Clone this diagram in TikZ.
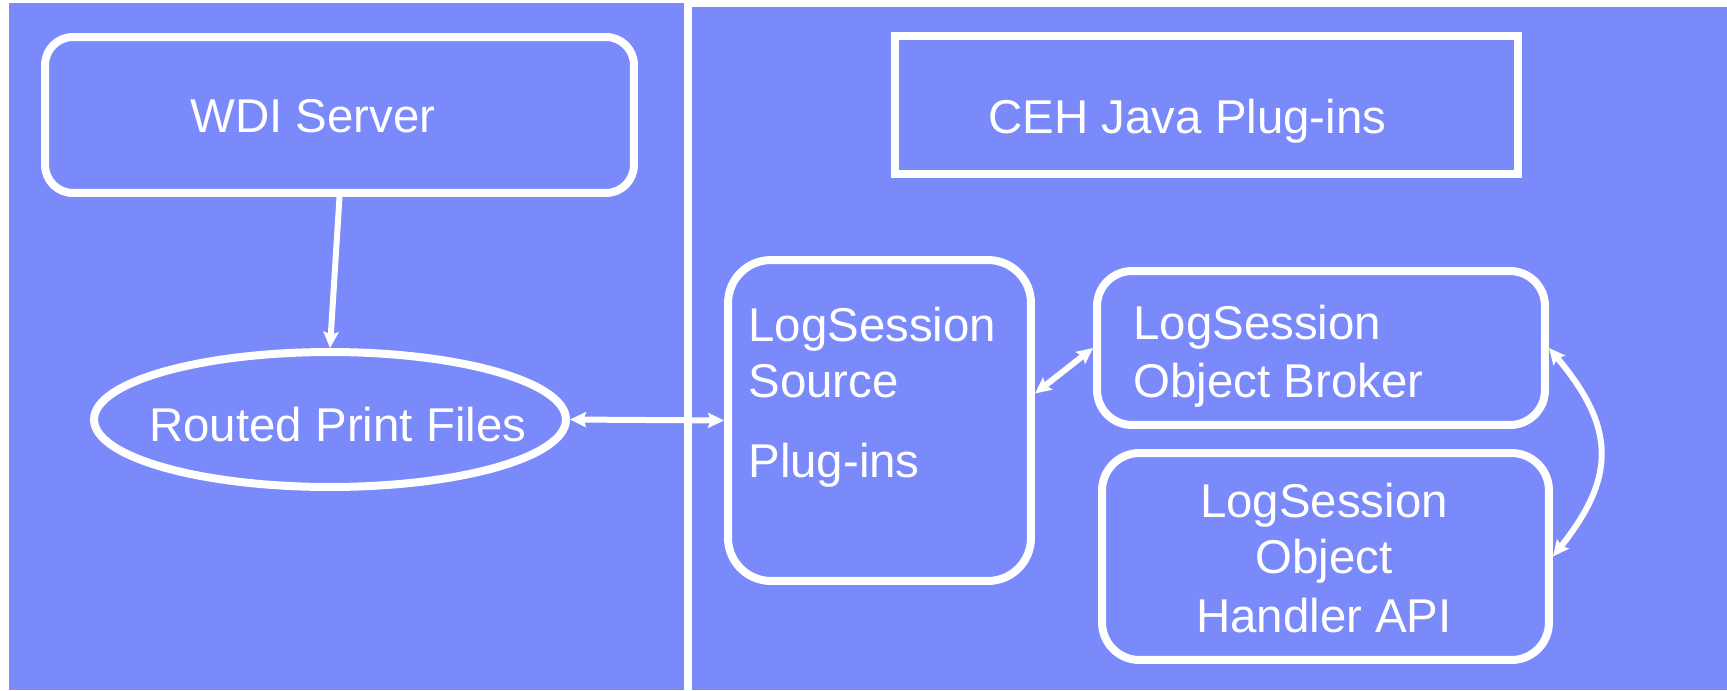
\documentclass[tikz,border=0pt]{standalone}
\usepackage{fontspec}
\setmainfont{Liberation Sans}
\usetikzlibrary{arrows.meta,shapes.geometric,calc}
\definecolor{panelblue}{HTML}{7A8AFB}
\begin{document}
\begin{tikzpicture}[x=0.02cm,y=-0.02cm,
  box/.style={draw=white,line width=0.16cm,inner sep=0pt},
  lbl/.style={text=white,font=\fontsize{27pt}{32pt}\selectfont,inner sep=0pt},
  conn/.style={draw=white,line width=0.12cm,
    arrows={-Stealth[length=0.32cm,width=0.30cm,inset=0.05cm]}},
  dconn/.style={draw=white,line width=0.12cm,
    arrows={Stealth[length=0.32cm,width=0.30cm,inset=0.05cm]-Stealth[length=0.32cm,width=0.30cm,inset=0.05cm]}}]
\useasboundingbox (0,0) rectangle (1727,690);
\fill[white] (0,0) rectangle (1727,690);
% panels
\fill[panelblue] (9,3) rectangle (684,690);
\fill[panelblue] (692,7) rectangle (1727,690);
% boxes
\node[box,rounded corners=0.56cm,minimum width=11.78cm,minimum height=3.12cm] (wdi) at (339.5,115) {};
\node[box,minimum width=12.46cm,minimum height=2.76cm] (ceh) at (1206.5,105) {};
\node[box,ellipse,minimum width=9.44cm,minimum height=2.70cm] (routed) at (330,419.5) {};
\node[box,rounded corners=0.86cm,minimum width=6.06cm,minimum height=6.42cm] (source) at (879.5,420.5) {};
\node[box,rounded corners=0.7cm,minimum width=8.96cm,minimum height=3.08cm] (broker) at (1321,348) {};
\node[box,rounded corners=0.75cm,minimum width=8.94cm,minimum height=4.14cm] (handler) at (1325.5,556.5) {};
% texts
\node[lbl,anchor=base west] (twdi) at (190,132) {WDI Server};
\node[lbl,anchor=base west] (tceh) at (988,133) {CEH Java Plug-ins};
\node[lbl,anchor=base west] (trouted) at (149,441) {Routed Print Files};
\node[lbl,anchor=base west] (tsrc1) at (748,341) {LogSession};
\node[lbl,anchor=base west] (tsrc2) at (748,397) {Source};
\node[lbl,anchor=base west] (tsrc3) at (748,477) {Plug-ins};
\node[lbl,anchor=base west] (tbrk1) at (1133,339) {LogSession};
\node[lbl,anchor=base west] (tbrk2) at (1133,397) {Object Broker};
\node[lbl,anchor=base] (thnd1) at (1324,517) {LogSession};
\node[lbl,anchor=base] (thnd2) at (1324,573) {Object};
\node[lbl,anchor=base] (thnd3) at (1324,632) {Handler API};
% connectors
\draw[conn] (wdi.south) -- (routed.north);
\draw[dconn] (routed.east) -- (source.west);
\coordinate (srcpt) at ($(source.east)+(0,-27)$);
\draw[dconn] (srcpt) -- (broker.west);
\draw[dconn] (broker.east) .. controls (1616,428) and (1616,477) .. (handler.east);
\end{tikzpicture}
\end{document}
